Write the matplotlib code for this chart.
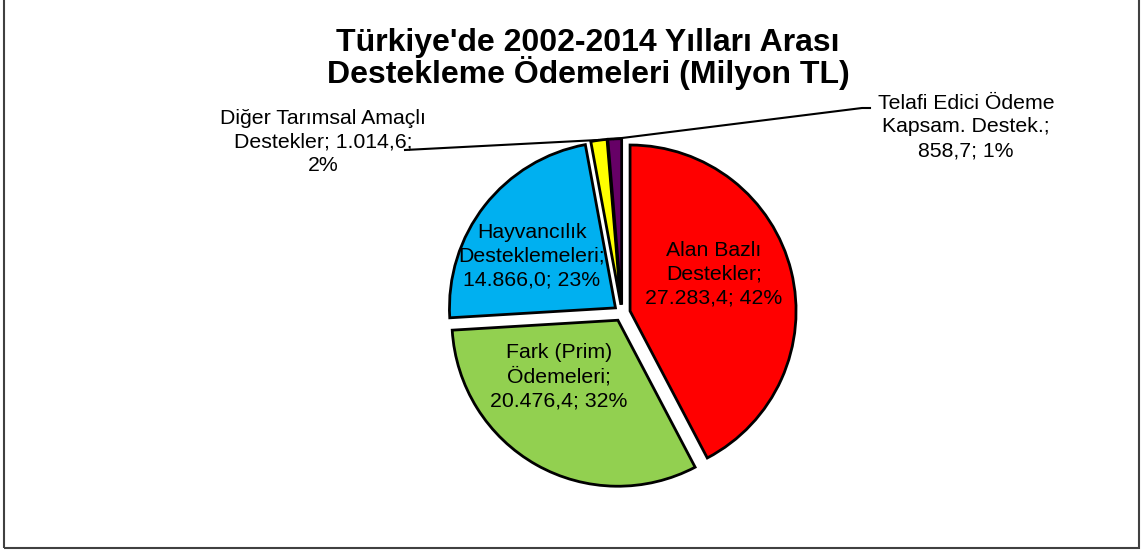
import matplotlib.pyplot as plt
from matplotlib.patches import Rectangle

# veriler
names = ['Alan Bazlı\nDestekler', 'Fark (Prim)\nÖdemeleri', 'Hayvancılık\nDesteklemeleri',
         'Diğer Tarımsal Amaçlı\nDestekler', 'Telafi Edici Ödeme\nKapsam. Destek.']
values = [27283.4, 20476.4, 14866.0, 1014.6, 858.7]
colors = ['#FF0000', '#92D050', '#00B0F0', '#FFFF00', '#660066']
# ayraçlar: isim-değer, değer-yüzde
seps = [(';\n', '; '), (';\n', '; '), (';\n', '; '), ('; ', ';\n'), (';\n', '; ')]
# etiket merkezleri (piksel)
label_pos = [(714, 274), (559, 377), (532, 256), (323, 142), (966, 127)]

W, H = 1141, 551
R = 166
plt.rcParams['font.family'] = ['Liberation Sans', 'DejaVu Sans']


def tr(v):
    s = '{:,.1f}'.format(v)
    return s.replace(',', 'X').replace('.', ',').replace('X', '.')


fig = plt.figure(figsize=(W / 100, H / 100), dpi=100)
ax = fig.add_axes([0, 0, 1, 1])

total = sum(values)
ax.pie(values, colors=colors, startangle=90, counterclock=False,
       explode=[0.05 * R] * len(values), center=(622, H - 313), radius=R,
       wedgeprops=dict(edgecolor='black', linewidth=2))

ax.set_xlim(0, W)
ax.set_ylim(0, H)
ax.set_aspect('auto')
ax.axis('off')

for n, v, (s1, s2), (x, y) in zip(names, values, seps, label_pos):
    pct = round(100 * v / total)
    ax.text(x, H - y, n + s1 + tr(v) + s2 + '{}%'.format(pct),
            ha='center', va='center', fontsize=15.3, linespacing=1.32)

# bağlantı çizgileri
ax.plot([405, 598], [H - 150, H - 140], color='black', lw=1.5)
ax.plot([614, 862, 870], [H - 139, H - 108, H - 108], color='black', lw=1.5)

ax.text(588, H - 59, "Türkiye'de 2002-2014 Yılları Arası\nDestekleme Ödemeleri (Milyon TL)",
        ha='center', va='center', fontsize=23, fontweight='bold', linespacing=0.94)

# çerçeve
fig.patches.append(Rectangle((4 / W, 3 / H), 1135 / W, 1.1, transform=fig.transFigure,
                             fill=False, edgecolor='#404040', lw=1.5))

plt.savefig('out.png', dpi=100)
